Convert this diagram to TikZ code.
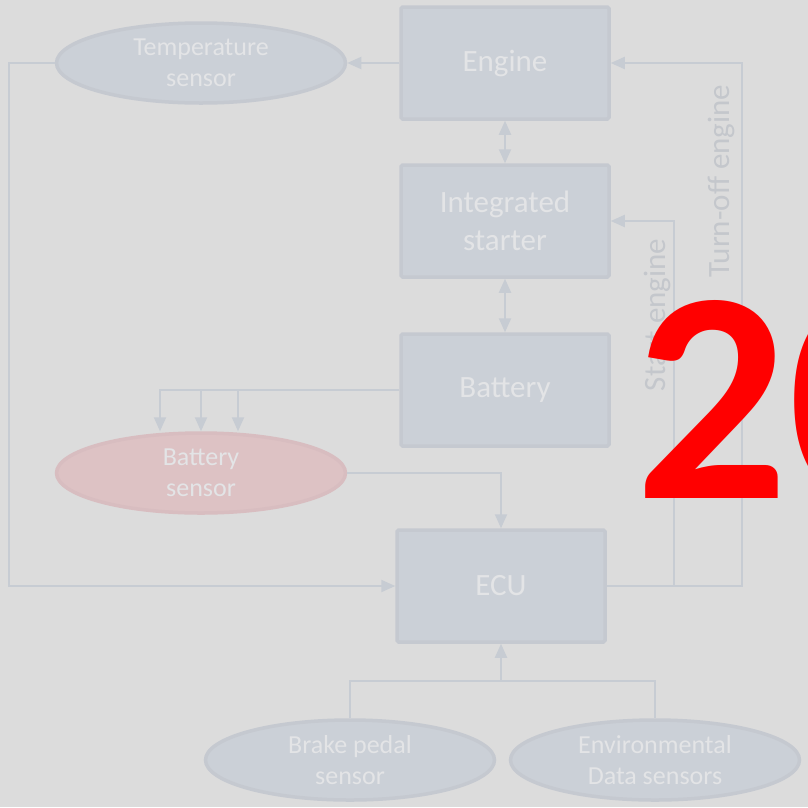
\documentclass[tikz,border=0pt]{standalone}
\usepackage{fontspec}
\setmainfont{Carlito}
\usetikzlibrary{shapes.geometric,arrows.meta}
\definecolor{bg}{HTML}{DCDCDC}
\definecolor{boxfill}{HTML}{CBD0D7}
\definecolor{boxline}{HTML}{C5C9D0}
\definecolor{wirecol}{HTML}{C7CCD3}
\definecolor{txtcol}{HTML}{E3E4E6}
\definecolor{lblcol}{HTML}{C4C7CC}
\definecolor{warnfill}{HTML}{DDC2C4}
\definecolor{warnline}{HTML}{D8BDC0}

\begin{document}
\begin{tikzpicture}[x=1pt,y=-1pt,
  block/.style={rectangle,draw=boxline,line width=3.5pt,fill=boxfill,text=txtcol,
    minimum width=208pt,minimum height=112pt,align=center,rounded corners=1.5pt,
    font=\fontsize{31}{38}\selectfont},
  sensor/.style={ellipse,draw=boxline,line width=3.5pt,fill=boxfill,text=txtcol,
    minimum width=289pt,minimum height=80pt,inner sep=0pt,align=center,
    font=\fontsize{26}{31}\selectfont},
  wire/.style={draw=wirecol,line width=2pt,-{Triangle[length=14pt,width=12pt]}},
  line/.style={draw=wirecol,line width=2pt},
  both/.style={draw=wirecol,line width=2pt,{Triangle[length=14pt,width=12pt]}-{Triangle[length=14pt,width=12pt]}},
  sidelabel/.style={rotate=90,anchor=base,inner sep=0pt,text=lblcol,font=\fontsize{31}{31}\selectfont}]
  \clip (0,0) rectangle (808,807);
  \fill[bg] (0,0) rectangle (808,807);

  \node[block] (eng) at (505,63) {Engine};
  \node[block] (start) at (505,221) {Integrated\\starter};
  \node[block] (bat) at (505,390) {Battery};
  \node[block] (ecu) at (501,586) {ECU};
  \node[sensor] (temp) at (201,63) {Temperature\\sensor};
  \node[sensor,fill=warnfill,draw=warnline] (bsens) at (201,473) {Battery\\sensor};
  \node[sensor] (brake) at (350,760) {Brake pedal\\sensor};
  \node[sensor] (env) at (655,760) {Environmental\\Data sensors};
  \coordinate (join) at (501,681);

  \draw[wire] (eng.west) -- (temp.east);
  \draw[wire] (temp.west) -- ++(-46,0) |- (ecu.west);
  \draw[both] (eng.south) -- (start.north);
  \draw[both] (start.south) -- (bat.north);
  \draw[wire] (bat.west) -| ([xshift=-41pt]bsens.north);
  \draw[wire] (bsens.north |- bat.west) -- (bsens.north);
  \draw[wire] ([xshift=37pt]bsens.north |- bat.west) -- ([xshift=37pt]bsens.north);
  \draw[wire] (bsens.east) -| (ecu.north);
  \draw[wire] (ecu.east) -- ++(67,0) |- (start.east);
  \draw[wire] (ecu.east) -- ++(135,0) |- (eng.east);
  \draw[line] (brake.north) |- (join) -| (env.north);
  \draw[wire] (join) -- (ecu.south);

  \node[sidelabel] (startlbl) at (665,315) {Start engine};
  \node[sidelabel] (offlbl) at (729,181) {Turn-off engine};

  \node[anchor=base west,inner sep=0pt,text=red,font=\bfseries\fontsize{302}{302}\selectfont] (stamp) at (635,498) {20};
\end{tikzpicture}
\end{document}
